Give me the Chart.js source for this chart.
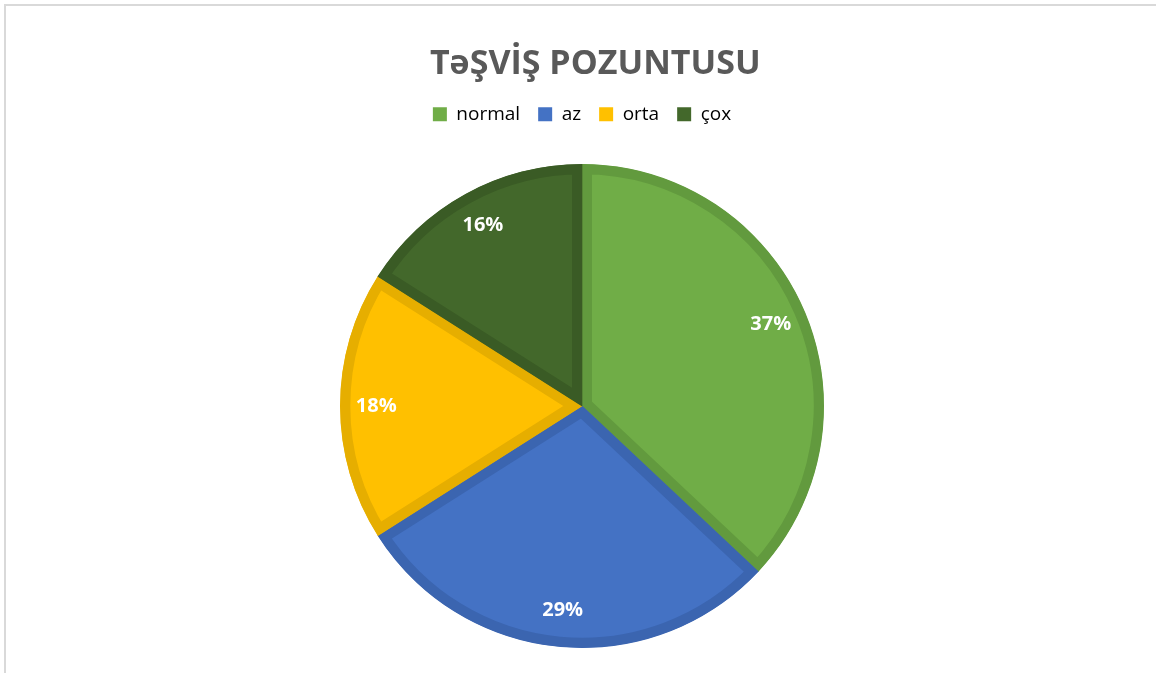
<!DOCTYPE html>
<html lang="az">
<head>
    <meta charset="UTF-8">
    <title>TəŞVİŞ POZUNTUSU</title>
    <script src="https://cdn.jsdelivr.net/npm/chart.js"></script>
    <style>
        body { margin: 0; background: #fff; }
        .wrap { position: relative; width: 1156px; height: 673px; }
        .frame { position: absolute; left: 4px; top: 4px; right: -10px; bottom: -10px;
                 border-top: 2px solid #d9d9d9; border-left: 2px solid #d9d9d9; pointer-events: none; }
    </style>
</head>
<body>
    <div class="wrap">
        <canvas id="pieChart" width="1156" height="673"></canvas>
        <div class="frame"></div>
    </div>

    <script>
        const categories = ['normal', 'az', 'orta', 'çox'];
        const values = [37, 29, 18, 16];
        const fillColors = ['#70ad47', '#4472c4', '#ffc000', '#43682b'];
        const edgeColors = ['#629a3e', '#3b65b0', '#e6ae00', '#3a5b25'];

        // percent labels drawn near the outer edge of each slice
        const sliceLabels = {
            id: 'sliceLabels',
            afterDatasetsDraw(chart) {
                const ctx = chart.ctx;
                const meta = chart.getDatasetMeta(0);
                const total = values.reduce((a, b) => a + b, 0);
                ctx.save();
                ctx.fillStyle = '#ffffff';
                ctx.font = 'bold 20px "Open Sans"';
                ctx.textAlign = 'center';
                ctx.textBaseline = 'middle';
                meta.data.forEach((arc, i) => {
                    const p = arc.getProps(['x', 'y', 'startAngle', 'endAngle', 'outerRadius']);
                    const mid = (p.startAngle + p.endAngle) / 2;
                    const r = p.outerRadius * 0.85;
                    const pct = Math.round(values[i] / total * 100) + '%';
                    ctx.fillText(pct, p.x + Math.cos(mid) * r, p.y + Math.sin(mid) * r);
                });
                ctx.restore();
            }
        };

        new Chart(document.getElementById('pieChart'), {
            type: 'pie',
            data: {
                labels: categories,
                datasets: [{
                    data: values,
                    backgroundColor: fillColors,
                    borderColor: edgeColors,
                    borderWidth: 10,
                    borderAlign: 'inner'
                }]
            },
            options: {
                responsive: false,
                animation: false,
                layout: { padding: { left: 8, right: 0, top: 0, bottom: 25 } },
                plugins: {
                    title: {
                        display: true,
                        text: '   TəŞVİŞ POZUNTUSU',
                        color: '#595959',
                        font: { family: 'Open Sans', size: 34, weight: 'bold' },
                        padding: { top: 44, bottom: 2 }
                    },
                    // empty spacer between the legend and the pie
                    subtitle: {
                        display: true,
                        text: ' ',
                        weight: 500,
                        font: { size: 1 },
                        padding: { top: 0, bottom: 29 }
                    },
                    legend: {
                        position: 'top',
                        labels: {
                            color: '#595959',
                            font: { family: 'Open Sans', size: 19 },
                            boxWidth: 14,
                            boxHeight: 14,
                            padding: 18,
                            generateLabels(chart) {
                                return categories.map((c, i) => ({
                                    text: c,
                                    fillStyle: fillColors[i],
                                    strokeStyle: fillColors[i],
                                    lineWidth: 0,
                                    index: i,
                                    hidden: false
                                }));
                            }
                        }
                    },
                    tooltip: { enabled: false }
                }
            },
            plugins: [sliceLabels]
        });
    </script>
</body>
</html>
